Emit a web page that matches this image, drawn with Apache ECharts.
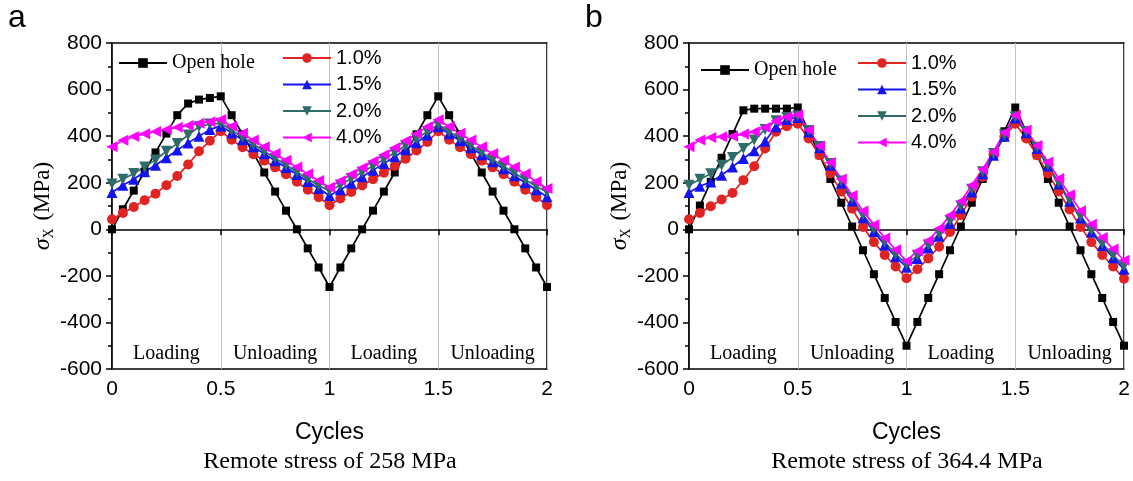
<!DOCTYPE html>
<html style="height: 100%;width: 100%">
<head>
    <meta charset="UTF-8">
    <script type="text/javascript" src="https://cdn.jsdelivr.net/npm/echarts/dist/echarts.min.js"></script>
    <title>Cycles</title>
    <style>
        body { margin: 0; background: #fff; }
    </style>
</head>
<body>
<div id="main" style="width: 1133px;height:481px;"></div>
<script type="text/javascript">
    // x values (cycles)
    var cycles = [0, 0.05, 0.1, 0.15, 0.2, 0.25, 0.3, 0.35, 0.4, 0.45, 0.5,
        0.55, 0.6, 0.65, 0.7, 0.75, 0.8, 0.85, 0.9, 0.95, 1,
        1.05, 1.1, 1.15, 1.2, 1.25, 1.3, 1.35, 1.4, 1.45, 1.5,
        1.55, 1.6, 1.65, 1.7, 1.75, 1.8, 1.85, 1.9, 1.95, 2];

    var seriesNames = ['Open hole', '1.0%', '1.5%', '2.0%', '4.0%'];
    var phaseLabels = ['Loading', 'Unloading', 'Loading', 'Unloading'];
    var xTicks = [0, 0.5, 1, 1.5, 2];
    var yTicks = [-600, -400, -200, 0, 200, 400, 600, 800];

    // (a) remote stress 258 MPa
    var openHoleA = [0, 86, 166, 248, 330, 411, 490, 540, 557, 564, 571,
        490, 408, 326, 244, 162, 80, 0, -82, -164, -248,
        -164, -82, 0, 80, 162, 244, 326, 408, 490, 571,
        490, 408, 326, 244, 162, 80, 0, -82, -164, -248];
    var p10A = [43, 70, 96, 125, 153, 189, 229, 278, 335, 380, 421,
        385, 352, 322, 295, 266, 236, 204, 170, 138, 103,
        132, 160, 188, 215, 243, 272, 303, 338, 375, 421,
        385, 352, 322, 295, 266, 236, 204, 170, 138, 103];
    var p15A = [158, 189, 215, 247, 275, 307, 340, 371, 400, 428, 444,
        414, 384, 354, 324, 294, 265, 235, 205, 175, 145,
        170, 198, 226, 254, 282, 312, 342, 372, 405, 440,
        410, 380, 350, 320, 290, 260, 230, 200, 170, 140];
    var p20A = [194, 215, 240, 268, 298, 335, 368, 405, 440, 452, 455,
        425, 395, 365, 335, 305, 276, 246, 216, 188, 165,
        190, 218, 245, 272, 300, 330, 360, 390, 420, 450,
        420, 390, 360, 330, 300, 271, 242, 213, 185, 160];
    var p40A = [354, 382, 398, 410, 420, 428, 438, 446, 455, 462, 472,
        442, 412, 383, 354, 325, 296, 267, 238, 209, 180,
        208, 236, 264, 292, 320, 350, 380, 410, 440, 470,
        441, 412, 383, 354, 325, 296, 267, 238, 205, 175];

    // (b) remote stress 364.4 MPa
    var openHoleB = [0, 102, 204, 307, 409, 511, 518, 518, 518, 518, 523,
        421, 318, 216, 114, 12, -90, -193, -295, -398, -500,
        -398, -295, -193, -90, 12, 114, 216, 318, 421, 523,
        421, 318, 216, 114, 12, -90, -193, -295, -398, -500];
    var p10B = [43, 70, 99, 128, 156, 211, 271, 347, 419, 443, 453,
        390, 318, 240, 162, 88, 10, -55, -110, -160, -210,
        -172, -125, -75, -12, 60, 140, 225, 321, 397, 453,
        390, 318, 240, 162, 85, 10, -55, -110, -160, -212];
    var p15B = [158, 185, 203, 232, 268, 304, 337, 378, 440, 472, 480,
        418, 350, 275, 198, 122, 50, -10, -68, -118, -163,
        -125, -80, -30, 25, 90, 160, 238, 318, 400, 478,
        415, 347, 272, 195, 120, 48, -12, -70, -122, -172];
    var p20B = [189, 215, 239, 275, 308, 347, 383, 429, 466, 480, 486,
        424, 356, 282, 207, 133, 62, 2, -55, -106, -150,
        -112, -68, -18, 38, 100, 172, 247, 325, 405, 482,
        420, 352, 276, 200, 126, 56, -4, -62, -112, -158];
    var p40B = [354, 383, 394, 397, 400, 409, 419, 437, 466, 483, 492,
        426, 358, 287, 216, 145, 78, 20, -37, -88, -136,
        -93, -48, 3, 60, 120, 189, 258, 333, 416, 490,
        426, 360, 289, 218, 148, 80, 22, -35, -85, -133];

    var SANS = 'Liberation Sans, Arial, sans-serif';
    var SERIF = 'Liberation Serif, Times New Roman, serif';

    // line style of each curve: colour, marker, marker size, rotation
    var styles = [
        {color: '#000000', symbol: 'rect', size: 8, rotate: 0},
        {color: '#e02424', symbol: 'circle', size: 10, rotate: 0},
        {color: '#1414f0', symbol: 'triangle', size: 11, rotate: 0},
        {color: '#2f6b68', symbol: 'triangle', size: 11, rotate: 180},
        {color: '#ff00ff', symbol: 'triangle', size: 11, rotate: 90}
    ];

    function pairs(vals) {
        var out = [];
        for (var i = 0; i < cycles.length; i++) out.push([cycles[i], vals[i]]);
        return out;
    }

    function makeSeries(idx, vals, g) {
        var st = styles[idx];
        var s = {
            name: seriesNames[idx],
            type: 'line',
            xAxisIndex: g,
            yAxisIndex: g,
            data: pairs(vals),
            symbol: st.symbol,
            symbolSize: st.size,
            symbolRotate: st.rotate,
            showAllSymbol: true,
            animation: false,
            lineStyle: {color: st.color, width: 1.7},
            itemStyle: {color: st.color, borderWidth: 0}
        };
        if (idx === 0) {
            // Loading / Unloading labels in the four half cycles
            var areas = [];
            for (var k = 0; k < 4; k++) {
                areas.push([{xAxis: xTicks[k], yAxis: yTicks[0], name: phaseLabels[k]},
                    {xAxis: xTicks[k + 1], yAxis: yTicks[yTicks.length - 1]}]);
            }
            s.markArea = {
                silent: true,
                itemStyle: {color: 'rgba(0,0,0,0)'},
                label: {show: true, position: 'insideBottom', distance: 5,
                    color: '#000', fontFamily: SERIF, fontSize: 20},
                data: areas
            };
        }
        return s;
    }

    function xAxisOf(g) {
        return {
            type: 'value', gridIndex: g, min: 0, max: 2, interval: 0.5,
            name: 'Cycles', nameLocation: 'middle', nameGap: 52,
            nameTextStyle: {fontFamily: SANS, fontSize: 23, color: '#000'},
            axisLine: {lineStyle: {color: '#000', width: 1.5}},
            axisTick: {length: 6, lineStyle: {color: '#000', width: 1.5}},
            axisLabel: {fontFamily: SANS, fontSize: 21, color: '#000', margin: 10},
            splitLine: {show: true, lineStyle: {color: '#c4c4c4', width: 1}}
        };
    }

    function yAxisOf(g) {
        return {
            type: 'value', gridIndex: g, min: -600, max: 800, interval: 200,
            name: '{s|σ}{x|X} (MPa)', nameLocation: 'middle', nameGap: 50,
            nameTextStyle: {
                fontFamily: SERIF, fontSize: 23, color: '#000',
                rich: {
                    s: {fontFamily: SERIF, fontStyle: 'italic', fontSize: 24, color: '#000'},
                    x: {fontFamily: SERIF, fontSize: 14, color: '#000', padding: [12, 2, 0, 0]}
                }
            },
            axisLine: {lineStyle: {color: '#000', width: 1.5}},
            axisTick: {length: 6, lineStyle: {color: '#000', width: 1.5}},
            minorTick: {show: true, splitNumber: 2, length: 4, lineStyle: {color: '#000', width: 1.5}},
            axisLabel: {fontFamily: SANS, fontSize: 21, color: '#000', margin: 10},
            splitLine: {show: false}
        };
    }

    function legendsOf(x1, y1, x2, y2) {
        return [{
            data: ['Open hole'], left: x1, top: y1, padding: 0,
            itemWidth: 48, itemHeight: 12, selectedMode: false,
            textStyle: {fontFamily: SERIF, fontSize: 20, color: '#000', lineHeight: 20}
        }, {
            data: ['1.0%', '1.5%', '2.0%', '4.0%'], orient: 'vertical',
            left: x2, top: y2, padding: 0, itemGap: 6.5,
            itemWidth: 48, itemHeight: 12, selectedMode: false,
            textStyle: {fontFamily: SANS, fontSize: 20, color: '#000', lineHeight: 20}
        }];
    }

    var myChart = echarts.init(document.getElementById('main'), null, {renderer: 'canvas'});

    var seriesA = [openHoleA, p10A, p15A, p20A, p40A];
    var seriesB = [openHoleB, p10B, p15B, p20B, p40B];
    var series = [];
    for (var i = 0; i < 5; i++) series.push(makeSeries(i, seriesA[i], 0));
    for (var j = 0; j < 5; j++) series.push(makeSeries(j, seriesB[j], 1));

    var option = {
        backgroundColor: '#fff',
        animation: false,
        grid: [
            {left: 112, top: 43, width: 435, height: 326, show: true, borderColor: '#000', borderWidth: 1.5, backgroundColor: 'transparent'},
            {left: 689, top: 43, width: 435, height: 326, show: true, borderColor: '#000', borderWidth: 1.5, backgroundColor: 'transparent'}
        ],
        legend: legendsOf(118, 53, 282, 48).concat(legendsOf(700, 60, 857, 53)),
        xAxis: [xAxisOf(0), xAxisOf(1)],
        yAxis: [yAxisOf(0), yAxisOf(1)],
        graphic: [
            {type: 'text', left: 8, top: 2, style: {text: 'a', font: '32px ' + SANS, fill: '#000'}},
            {type: 'text', left: 585, top: 2, style: {text: 'b', font: '32px ' + SANS, fill: '#000'}},
            {type: 'text', x: 330, y: 462, style: {text: 'Remote stress of 258 MPa', font: '24px ' + SERIF, fill: '#000', textAlign: 'center', textVerticalAlign: 'middle'}},
            {type: 'text', x: 907, y: 462, style: {text: 'Remote stress of 364.4 MPa', font: '24px ' + SERIF, fill: '#000', textAlign: 'center', textVerticalAlign: 'middle'}}
        ],
        series: series
    };

    myChart.setOption(option);
</script>
</body>
</html>
